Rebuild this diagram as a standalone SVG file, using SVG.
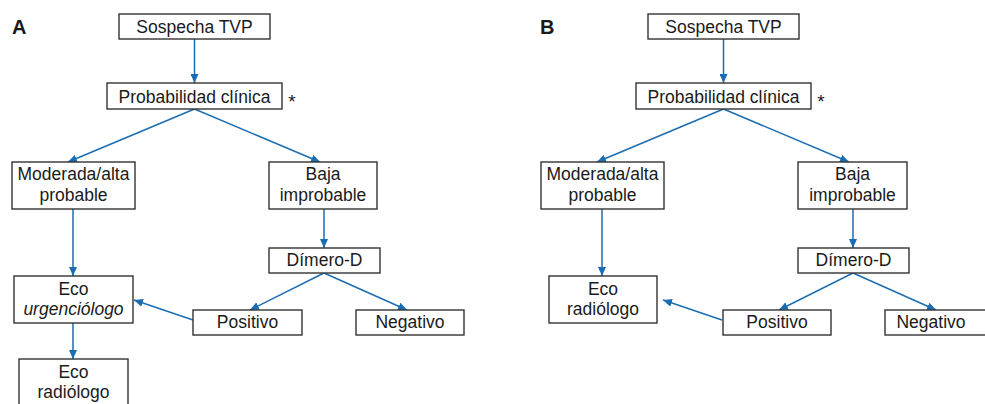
<svg xmlns="http://www.w3.org/2000/svg" width="985" height="404" viewBox="0 0 985 404">
<defs>
<marker id="ah" viewBox="0 0 9 8" refX="9" refY="4" markerWidth="9" markerHeight="8" markerUnits="userSpaceOnUse" orient="auto">
<path d="M0,0 L9,4 L0,8 z" fill="#1b6db3"/>
</marker>
</defs>
<style>
.box{fill:#fff;stroke:#333;stroke-width:1.4}
.t{font-family:"Liberation Sans",Arial,sans-serif;font-size:17.5px;fill:#1a1a1a;text-anchor:middle}
.it{font-style:italic}
.lbl{font-family:"Liberation Sans",Arial,sans-serif;font-size:20px;font-weight:bold;fill:#1a1a1a}
.ast{font-family:"Liberation Sans",Arial,sans-serif;font-size:19px;fill:#1a1a1a;text-anchor:middle}
.c{stroke:#1b6db3;stroke-width:1.5;fill:none;marker-end:url(#ah)}
</style>
<rect width="985" height="404" fill="#fff"/>
<text class="lbl" x="12" y="34">A</text>
<text class="lbl" x="540" y="34">B</text>
<g id="connectors">
<line class="c" x1="194.5" y1="39" x2="194.5" y2="83"/>
<line class="c" x1="194.5" y1="109" x2="68" y2="162"/>
<line class="c" x1="194.5" y1="109" x2="320" y2="162"/>
<line class="c" x1="73" y1="209" x2="73" y2="276"/>
<line class="c" x1="324" y1="209" x2="324" y2="248"/>
<line class="c" x1="73" y1="323" x2="73" y2="359"/>
<line class="c" x1="324" y1="273" x2="250" y2="310"/>
<line class="c" x1="324" y1="273" x2="407" y2="310"/>
<line class="c" x1="193" y1="320" x2="134" y2="300"/>
<line class="c" x1="723.5" y1="39" x2="723.5" y2="83"/>
<line class="c" x1="723.5" y1="109" x2="597" y2="162"/>
<line class="c" x1="723.5" y1="109" x2="849" y2="162"/>
<line class="c" x1="602" y1="209" x2="602" y2="276"/>
<line class="c" x1="853" y1="209" x2="853" y2="248"/>
<line class="c" x1="853" y1="273" x2="779" y2="310"/>
<line class="c" x1="853" y1="273" x2="936" y2="310"/>
<line class="c" x1="722" y1="320" x2="663" y2="300"/>
</g>
<g id="a-sospecha"><rect class="box" x="119" y="14" width="151" height="25"/><text class="t" x="194.5" y="33">Sospecha TVP</text></g>
<g id="a-probabilidad"><rect class="box" x="107" y="83" width="175" height="26"/><text class="t" x="194.5" y="103">Probabilidad clínica</text><text class="ast" x="292" y="108">*</text></g>
<g id="a-moderada"><rect class="box" x="12" y="162" width="123" height="47"/><text class="t" x="73.5" y="180">Moderada/alta</text><text class="t" x="73.5" y="201">probable</text></g>
<g id="a-baja"><rect class="box" x="269" y="162" width="108" height="47"/><text class="t" x="323" y="180">Baja</text><text class="t" x="323" y="201">improbable</text></g>
<g id="a-dimero"><rect class="box" x="269" y="248" width="111" height="25"/><text class="t" x="324.5" y="266">Dímero-D</text></g>
<g id="a-eco-urg"><rect class="box" x="14" y="276" width="119" height="47"/><text class="t" x="73.5" y="295">Eco</text><text class="t it" x="73.5" y="315">urgenciólogo</text></g>
<g id="a-positivo"><rect class="box" x="193" y="310" width="109" height="25"/><text class="t" x="247.5" y="328">Positivo</text></g>
<g id="a-negativo"><rect class="box" x="356" y="310" width="108" height="25"/><text class="t" x="410" y="328">Negativo</text></g>
<g id="a-eco-rad"><rect class="box" x="19" y="359" width="109" height="60"/><text class="t" x="73.5" y="378">Eco</text><text class="t" x="73.5" y="398">radiólogo</text></g>
<g id="b-sospecha"><rect class="box" x="648" y="14" width="151" height="25"/><text class="t" x="723.5" y="33">Sospecha TVP</text></g>
<g id="b-probabilidad"><rect class="box" x="636" y="83" width="175" height="26"/><text class="t" x="723.5" y="103">Probabilidad clínica</text><text class="ast" x="821" y="108">*</text></g>
<g id="b-moderada"><rect class="box" x="541" y="162" width="123" height="47"/><text class="t" x="602.5" y="180">Moderada/alta</text><text class="t" x="602.5" y="201">probable</text></g>
<g id="b-baja"><rect class="box" x="798" y="162" width="109" height="47"/><text class="t" x="852.5" y="180">Baja</text><text class="t" x="852.5" y="201">improbable</text></g>
<g id="b-dimero"><rect class="box" x="798" y="248" width="111" height="25"/><text class="t" x="853.5" y="266">Dímero-D</text></g>
<g id="b-eco-rad"><rect class="box" x="549" y="276" width="108" height="47"/><text class="t" x="603" y="295">Eco</text><text class="t" x="603" y="315">radiólogo</text></g>
<g id="b-positivo"><rect class="box" x="723" y="310" width="108" height="25"/><text class="t" x="777" y="328">Positivo</text></g>
<g id="b-negativo"><rect class="box" x="885" y="310" width="108" height="25"/><text class="t" x="931" y="328">Negativo</text></g>
</svg>
